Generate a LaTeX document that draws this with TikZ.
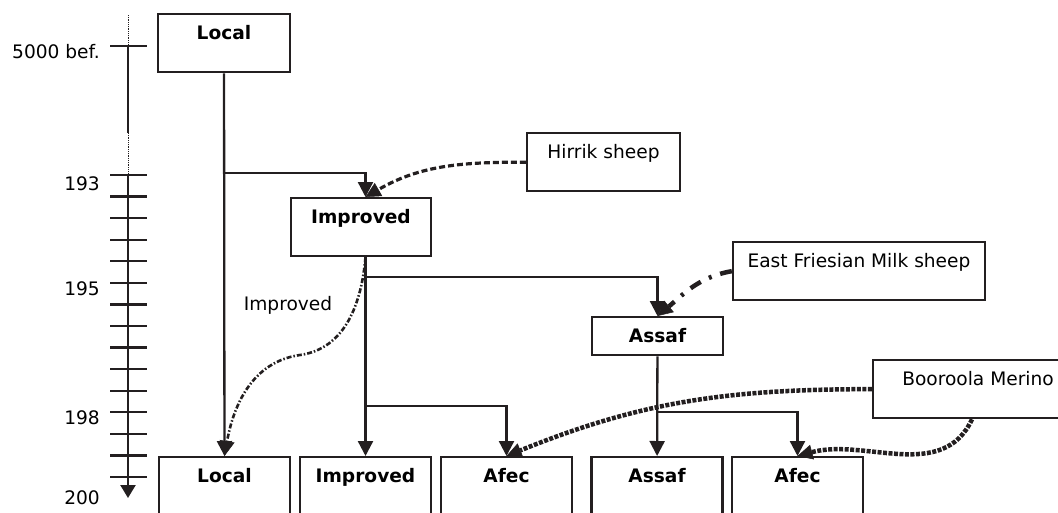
\documentclass[tikz,border=0pt]{standalone}
\usepackage{fontspec}
\setmainfont{DejaVu Sans}
\usetikzlibrary{arrows.meta}
\definecolor{ink}{HTML}{231F20}
\newcommand{\breedfont}{\fontsize{18.6pt}{22pt}\selectfont}

\tikzset{
  breed/.style={draw=ink, line width=2.3pt, inner sep=0pt, anchor=north,
    text height=25pt, text depth=33pt, font=\breedfont\bfseries},
  donor/.style={breed, font=\breedfont\mdseries},
  descent/.style={draw=ink, line width=2.3pt, -{Triangle[width=15pt,length=15pt]}},
  crossin/.style={draw=ink, -{Triangle[width=15pt,length=15pt,line width=0.5pt]}},
  crossdash/.style={crossin, line width=3.2pt, dash pattern=on 6pt off 3pt},
  crossdot/.style={crossin, line width=4.5pt, dash pattern=on 4pt off 1.5pt},
  crossdashdot/.style={crossin, line width=4.5pt, dash pattern=on 12pt off 9pt on 3pt off 9pt},
  crossthin/.style={crossin, line width=2.6pt, dash pattern=on 5pt off 2pt on 1.5pt off 2pt},
  axisline/.style={draw=ink, line width=2.3pt},
}

\begin{document}
\begin{tikzpicture}[x=1pt, y=-1pt, font=\breedfont]
\useasboundingbox (0,0) rectangle (1058,512);

% time axis
\draw[ink, line width=0.8pt, densely dotted] (128,15) -- (128,46);
\draw[axisline] (128,46) -- (128,133);
\draw[ink, line width=0.8pt, densely dotted] (128,133) -- (128,175);
\draw[axisline, -{Triangle[width=15pt,length=13pt]}] (128,175) -- (128,498);
\draw[axisline] (110,46) -- (147,46);
\foreach \k in {0,...,14}{
  \draw[axisline] (110,175+\k*21.57) -- (147,175+\k*21.57);
}
\foreach \name/\year/\y in {ybef/5000 bef./52, y193/193/184, y195/195/289, y198/198/418, y200/200/498}{
  \node[anchor=east, inner sep=0pt] (\name) at (100,\y) {\year};
}

% breeds
\node[breed, minimum width=132pt] (loctop) at (224,13) {Local};
\node[breed, minimum width=140pt] (impmid) at (361,197) {Improved};
\node[breed, minimum width=131pt, text depth=13pt] (assafmid) at (657.5,316) {Assaf};
\foreach \name/\x/\breed in {locbot/224.5/Local, impbot/365.5/Improved, afec1/506.5/Afec,
    assafbot/657/Assaf, afec2/797.5/Afec}{
  \node[breed, minimum width=131pt] (\name) at (\x,456) {\breed};
}

% donor breeds
\node[donor, minimum width=153pt] (hirrik) at (603.5,132) {Hirrik sheep};
\node[donor, minimum width=252pt] (friesian) at (859,241) {East Friesian Milk sheep};
\node[donor, minimum width=210pt] (merino) at (978,359) {Booroola Merino};
\node (lblimp) at (288,305) {Improved};

% lines of descent
\coordinate (j1) at (224,173);
\coordinate (j2) at (365.5,277);
\coordinate (j3) at (365.5,406);
\coordinate (j4) at (657,412);
\coordinate (bend) at (300,355);
\draw[descent] (loctop) -- (locbot);
\draw[descent] (j1) -| (impmid.north -| impbot);
\draw[descent] (impmid.south -| impbot) -- (impbot);
\draw[descent] (j2) -| (assafmid);
\draw[descent] (j3) -| (afec1);
\draw[descent] (assafmid) -- (assafbot);
\draw[descent] (j4) -| (afec2);

% crossing
\draw[crossdash] (hirrik.west) to[out=180,in=30] (impmid.north -| impbot);
\draw[crossdashdot] (friesian.west) to[out=190,in=40] (assafmid.north);
\draw[crossdot] (merino.west) to[out=180,in=22] (afec1.north);
\draw[crossdot] ([xshift=-6pt]merino.south) to[out=-115,in=15] (afec2.north);
\draw[crossthin] (impmid.south -| impbot) to[out=-95,in=8] (bend) to[out=188,in=80] (locbot.north);
\end{tikzpicture}
\end{document}
